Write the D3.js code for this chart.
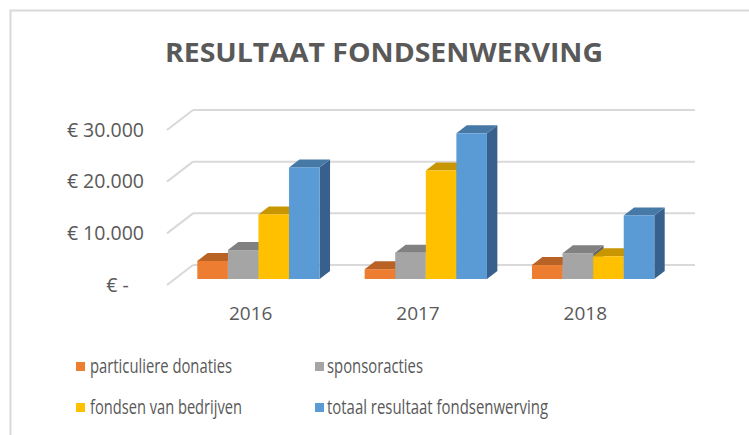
<!DOCTYPE html>
<meta charset="utf-8">
<script src="https://d3js.org/d3.v7.min.js"></script>
<style>
	body{
		margin:0;
		background:#fff;
		font-family: 'Open Sans', sans-serif;
	}
	svg text{
		fill:#595959;
		white-space:pre;
	}
</style>
<div id="chart"></div>
<script>

var years = ["2016","2017","2018"]
var seriesNames = ["particuliere donaties","sponsoracties","fondsen van bedrijven","totaal resultaat fondsenwerving"]
var seriesColors = ["#ED7D31","#A5A5A5","#FFC000","#5B9BD5"]

var particuliere = [3500,1900,2700]
var sponsoracties = [5600,5100,5000]
var fondsen = [12500,21000,4400]
var totaal = [21600,28200,12300]

var tickValues = [0,10000,20000,30000]
var tickLabels = ["€ -   ","€ 10.000","€ 20.000","€ 30.000"]

var w = 749
var h = 435

var svg = d3.select("#chart").append("svg").attr("width",w).attr("height",h)

// chart border (runs off the right and bottom edge)
svg.append("rect").attr("x",10.5).attr("y",10.5).attr("width",800).attr("height",500)
	.attr("fill","none").attr("stroke","#d9d9d9").attr("stroke-width",2)

svg.append("text").text("RESULTAAT FONDSENWERVING")
	.attr("x",165).attr("y",62)
	.attr("textLength",438).attr("lengthAdjust","spacingAndGlyphs")
	.style("font-size","26px").style("font-weight","bold")

// 3d depth of the floor: front edge -> back wall
var depthX = 26
var depthY = -20

var yScale = d3.scaleLinear().domain([0,30000]).range([285,130])
var x0 = d3.scaleBand().domain(years).range([167,669])
var x1 = d3.scaleBand().domain(seriesNames).range([22.5,x0.bandwidth()-22.5])

// gridlines: back wall + left wall diagonal
var grid = svg.append("g").attr("stroke","#d9d9d9").attr("stroke-width",2)
grid.selectAll(".back").data(tickValues).join("line")
	.attr("x1",167+depthX).attr("x2",669+depthX)
	.attr("y1",function(d){return yScale(d)+depthY})
	.attr("y2",function(d){return yScale(d)+depthY})
grid.selectAll(".side").data(tickValues).join("line")
	.attr("x1",167).attr("x2",167+depthX)
	.attr("y1",function(d){return yScale(d)})
	.attr("y2",function(d){return yScale(d)+depthY})

svg.selectAll(".ylab").data(tickValues).join("text")
	.text(function(d,i){return tickLabels[i]})
	.attr("x",144).attr("y",function(d){return yScale(d)-1})
	.attr("text-anchor","end").attr("dominant-baseline","central")
	.style("font-size","19.5px")

svg.selectAll(".xlab").data(years).join("text")
	.text(function(d){return d})
	.attr("x",function(d){return x0(d)+x0.bandwidth()/2})
	.attr("y",320).attr("text-anchor","middle")
	.style("font-size","19px")

// bars sit between 30% and 70% of the floor depth
var dStart = 0.3
var dLen = 0.4
var table = [particuliere,sponsoracties,fondsen,totaal]

var bars = []
years.forEach(function(yr,i){
	seriesNames.forEach(function(s,j){
		bars.push({year:yr,series:s,color:seriesColors[j],value:table[j][i]})
	})
})

var bx = depthX*dLen, by = depthY*dLen
var g = svg.append("g")
bars.forEach(function(b){
	var x = x0(b.year)+x1(b.series)+depthX*dStart
	var bw = x1.bandwidth()
	var yb = yScale(0)+depthY*dStart
	var yt = yScale(b.value)+depthY*dStart
	var c = d3.rgb(b.color)
	var top = d3.rgb(c.r*0.78,c.g*0.78,c.b*0.78)
	var side = d3.rgb(c.r*0.6,c.g*0.62,c.b*0.66)
	g.append("path")
		.attr("d","M"+(x+bw)+","+yt+"L"+(x+bw+bx)+","+(yt+by)+"L"+(x+bw+bx)+","+(yb+by)+"L"+(x+bw)+","+yb+"Z")
		.attr("fill",side)
	g.append("path")
		.attr("d","M"+x+","+yt+"L"+(x+bw)+","+yt+"L"+(x+bw+bx)+","+(yt+by)+"L"+(x+bx)+","+(yt+by)+"Z")
		.attr("fill",top)
	g.append("rect").attr("x",x).attr("y",yt).attr("width",bw).attr("height",yb-yt)
		.attr("fill",c)
})

// legend, 2 x 2
var legX = [76,315]
var legY = [367,408]
var legW = [142,96,152,221]
var leg = svg.selectAll(".leg").data(seriesNames).join("g")
	.attr("transform",function(d,i){return "translate("+legX[i%2]+","+legY[Math.floor(i/2)]+")"})
leg.append("rect").attr("x",0).attr("y",-5).attr("width",9).attr("height",9)
	.attr("fill",function(d,i){return seriesColors[i]})
leg.append("text").text(function(d){return d})
	.attr("x",function(d,i){return i%2==0?14:12}).attr("y",6)
	.attr("textLength",function(d,i){return legW[i]}).attr("lengthAdjust","spacingAndGlyphs")
	.style("font-size","20px")

</script>
